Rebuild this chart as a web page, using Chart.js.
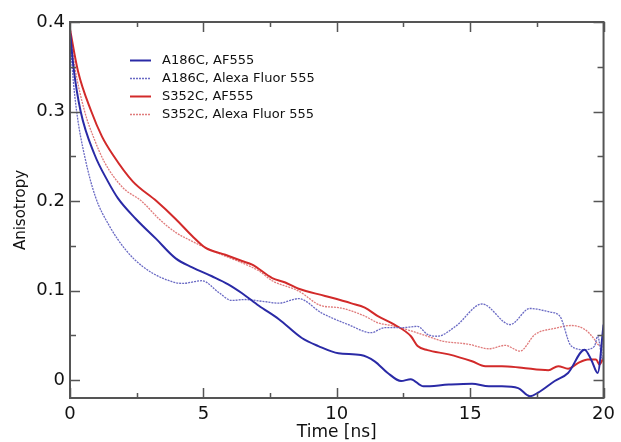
<!DOCTYPE html>
<html>
<head>
<meta charset="utf-8">
<script src="https://cdn.jsdelivr.net/npm/chart.js@4/dist/chart.umd.min.js"></script>
<style>
  html, body { margin: 0; padding: 0; background: #fff; }
  #wrap { width: 621px; height: 442px; }
</style>
</head>
<body>
<div id="wrap"><canvas id="chart"></canvas></div>
<script>
// Anisotropy decay (time in ns)
const a186cAfTime = [0, 0.13, 0.4, 0.92, 1.42, 1.8, 2.47, 3.22, 3.96, 4.58, 5.32, 5.93, 6.45, 7.08, 7.83, 8.69, 9.31, 10.06, 10.9, 11.42, 11.91, 12.41, 12.77, 13.25, 14.2, 15.07, 15.7, 16.19, 16.8, 17.24, 17.55, 18.17, 18.67, 19.29, 19.55, 19.78, 20];
const a186cAfVals = [0.39, 0.35, 0.30, 0.252, 0.222, 0.203, 0.18, 0.158, 0.136, 0.126, 0.116, 0.107, 0.097, 0.083, 0.068, 0.047, 0.038, 0.030, 0.028, 0.021, 0.008, -0.001, 0.001, -0.007, -0.005, -0.004, -0.007, -0.007, -0.009, -0.018, -0.014, -0.001, 0.008, 0.034, 0.022, 0.008, 0.062];

const a186cAlexaTime = [0, 0.08, 0.25, 0.55, 0.95, 1.48, 2.1, 2.72, 3.46, 4.21, 4.95, 5.57, 6.07, 6.56, 7.2, 7.83, 8.57, 9.43, 10.43, 11.29, 11.79, 12.41, 13.03, 13.4, 13.77, 14.45, 15.45, 16.5, 17.24, 17.99, 18.36, 18.79, 19.29, 19.66, 19.78, 19.97, 20];
const a186cAlexaVals = [0.39, 0.35, 0.30, 0.25, 0.205, 0.172, 0.145, 0.127, 0.114, 0.108, 0.111, 0.098, 0.089, 0.090, 0.088, 0.086, 0.091, 0.075, 0.062, 0.053, 0.0585, 0.0585, 0.060, 0.051, 0.049, 0.060, 0.085, 0.062, 0.080, 0.076, 0.0715, 0.038, 0.034, 0.038, 0.049, 0.023, 0.05];

const s352cAfTime = [0, 0.3, 0.8, 1.2, 1.6, 2.35, 3.24, 3.96, 4.58, 5.07, 5.82, 6.45, 6.83, 7.58, 8.07, 8.57, 9.56, 10.55, 11.05, 11.54, 12.16, 12.78, 13.03, 13.4, 14.2, 15.07, 15.57, 16.19, 16.93, 17.93, 18.3, 18.67, 19.04, 19.41, 19.72, 19.84, 20];
const s352cAfVals = [0.392, 0.345, 0.30, 0.272, 0.252, 0.222, 0.20, 0.18, 0.161, 0.148, 0.140, 0.133, 0.129, 0.114, 0.109, 0.102, 0.094, 0.0857, 0.081, 0.0715, 0.062, 0.049, 0.038, 0.0335, 0.0287, 0.021, 0.0156, 0.0156, 0.0138, 0.011, 0.0156, 0.0127, 0.019, 0.023, 0.023, 0.0175, 0.025];

const s352cAlexaTime = [0, 0.18, 0.55, 0.9, 1.3, 1.98, 2.68, 3.34, 3.96, 4.58, 5.07, 5.82, 6.45, 7.08, 7.58, 8.57, 9.43, 10.06, 11.05, 11.54, 12.04, 12.78, 13.4, 13.96, 14.95, 15.7, 16.31, 16.87, 17.43, 18.17, 18.79, 19.29, 19.66, 19.78, 20];
const s352cAlexaVals = [0.39, 0.35, 0.30, 0.27, 0.243, 0.215, 0.20, 0.18, 0.165, 0.155, 0.148, 0.1385, 0.131, 0.122, 0.111, 0.0995, 0.083, 0.081, 0.0715, 0.064, 0.061, 0.055, 0.049, 0.0436, 0.040, 0.035, 0.0388, 0.0324, 0.051, 0.0578, 0.061, 0.0567, 0.0455, 0.040, 0.038];

const seriesLabels = ['A186C, AF555', 'A186C, Alexa Fluor 555', 'S352C, AF555', 'S352C, Alexa Fluor 555'];

const xTickValues = [0, 5, 10, 15, 20];
const xTickLabels = ['0', '5', '10', '15', '20'];
const xMinorTicks = [2.5, 7.5, 12.5, 17.5];
const yTickValues = [0, 0.1, 0.2, 0.3, 0.4];
const yTickLabels = ['0', '0.1', '0.2', '0.3', '0.4'];
const yMinorTicks = [0.05, 0.15, 0.25, 0.35];

const FONT = "'DejaVu Sans', Verdana, sans-serif";
const FRAME = '#555';

function pts(xs, ys) {
  return xs.map((x, i) => ({ x: x, y: ys[i] }));
}

// frame with inward ticks on all four sides
const framePlugin = {
  id: 'frame',
  afterDraw(chart) {
    const ctx = chart.ctx;
    const a = chart.chartArea;
    const xs = chart.scales.x, ys = chart.scales.y;
    ctx.save();
    ctx.strokeStyle = FRAME;
    ctx.lineWidth = 2;
    ctx.strokeRect(a.left, a.top, a.right - a.left, a.bottom - a.top);
    ctx.lineWidth = 1.5;
    ctx.beginPath();
    function xTick(v, len) {
      const p = Math.round(xs.getPixelForValue(v)) + 0.5;
      ctx.moveTo(p, a.bottom); ctx.lineTo(p, a.bottom - len);
      ctx.moveTo(p, a.top); ctx.lineTo(p, a.top + len);
    }
    function yTick(v, len) {
      const p = Math.round(ys.getPixelForValue(v)) + 0.5;
      ctx.moveTo(a.left, p); ctx.lineTo(a.left + len, p);
      ctx.moveTo(a.right, p); ctx.lineTo(a.right - len, p);
    }
    xTickValues.forEach(v => xTick(v, 10));
    xMinorTicks.forEach(v => xTick(v, 5));
    yTickValues.forEach(v => yTick(v, 10));
    yMinorTicks.forEach(v => yTick(v, 6));
    ctx.stroke();
    ctx.restore();
  }
};

// legend drawn inside the plot, top left
const insideLegend = {
  id: 'insideLegend',
  afterDatasetsDraw(chart) {
    const ctx = chart.ctx;
    ctx.save();
    ctx.font = '13px ' + FONT;
    ctx.textBaseline = 'middle';
    chart.data.datasets.forEach((ds, i) => {
      const y = 60 + i * 18;
      ctx.strokeStyle = ds.borderColor;
      ctx.lineWidth = ds.borderWidth;
      ctx.setLineDash(ds.borderDash || []);
      ctx.beginPath();
      ctx.moveTo(130, y + 0.5);
      ctx.lineTo(151, y + 0.5);
      ctx.stroke();
      ctx.setLineDash([]);
      ctx.fillStyle = '#111';
      ctx.fillText(ds.label, 162, y + 1);
    });
    ctx.restore();
  }
};

const ctx = document.getElementById('chart').getContext('2d');
new Chart(ctx, {
  type: 'line',
  data: {
    datasets: [
      {
        label: seriesLabels[0],
        data: pts(a186cAfTime, a186cAfVals),
        borderColor: '#2a2aa6',
        borderWidth: 2
      },
      {
        label: seriesLabels[1],
        data: pts(a186cAlexaTime, a186cAlexaVals),
        borderColor: '#6a6ac4',
        borderWidth: 1.3,
        borderDash: [2, 1]
      },
      {
        label: seriesLabels[2],
        data: pts(s352cAfTime, s352cAfVals),
        borderColor: '#d22a2a',
        borderWidth: 2
      },
      {
        label: seriesLabels[3],
        data: pts(s352cAlexaTime, s352cAlexaVals),
        borderColor: '#e07c7c',
        borderWidth: 1.3,
        borderDash: [2, 1]
      }
    ]
  },
  options: {
    responsive: true,
    maintainAspectRatio: false,
    animation: false,
    datasets: {
      line: { pointRadius: 0, fill: false, cubicInterpolationMode: 'monotone' }
    },
    layout: { padding: { top: 22, right: 13, left: 0, bottom: 0 } },
    plugins: {
      legend: { display: false },
      tooltip: { enabled: false }
    },
    scales: {
      x: {
        type: 'linear',
        min: 0,
        max: 20,
        grid: { display: false, drawTicks: false },
        border: { display: false },
        afterBuildTicks: scale => { scale.ticks = xTickValues.map(v => ({ value: v })); },
        afterFit: scale => { scale.height = 44; },
        ticks: {
          padding: 6,
          maxRotation: 0,
          color: '#111',
          font: { family: FONT, size: 18 },
          callback: (v, i) => xTickLabels[i]
        },
        title: {
          display: true,
          text: 'Time [ns]',
          color: '#111',
          font: { family: FONT, size: 17 },
          padding: { top: 0, bottom: -1 }
        }
      },
      y: {
        min: -0.02,
        max: 0.4,
        grid: { display: false, drawTicks: false },
        border: { display: false },
        afterBuildTicks: scale => { scale.ticks = yTickValues.map(v => ({ value: v })); },
        afterFit: scale => { scale.width = 70; },
        ticks: {
          padding: 5,
          color: '#111',
          font: { family: FONT, size: 18 },
          callback: (v, i) => yTickLabels[i]
        },
        title: {
          display: true,
          text: 'Anisotropy',
          color: '#111',
          font: { family: FONT, size: 15 },
          padding: { top: 12, bottom: 0 }
        }
      }
    }
  },
  plugins: [framePlugin, insideLegend]
});
</script>
</body>
</html>
